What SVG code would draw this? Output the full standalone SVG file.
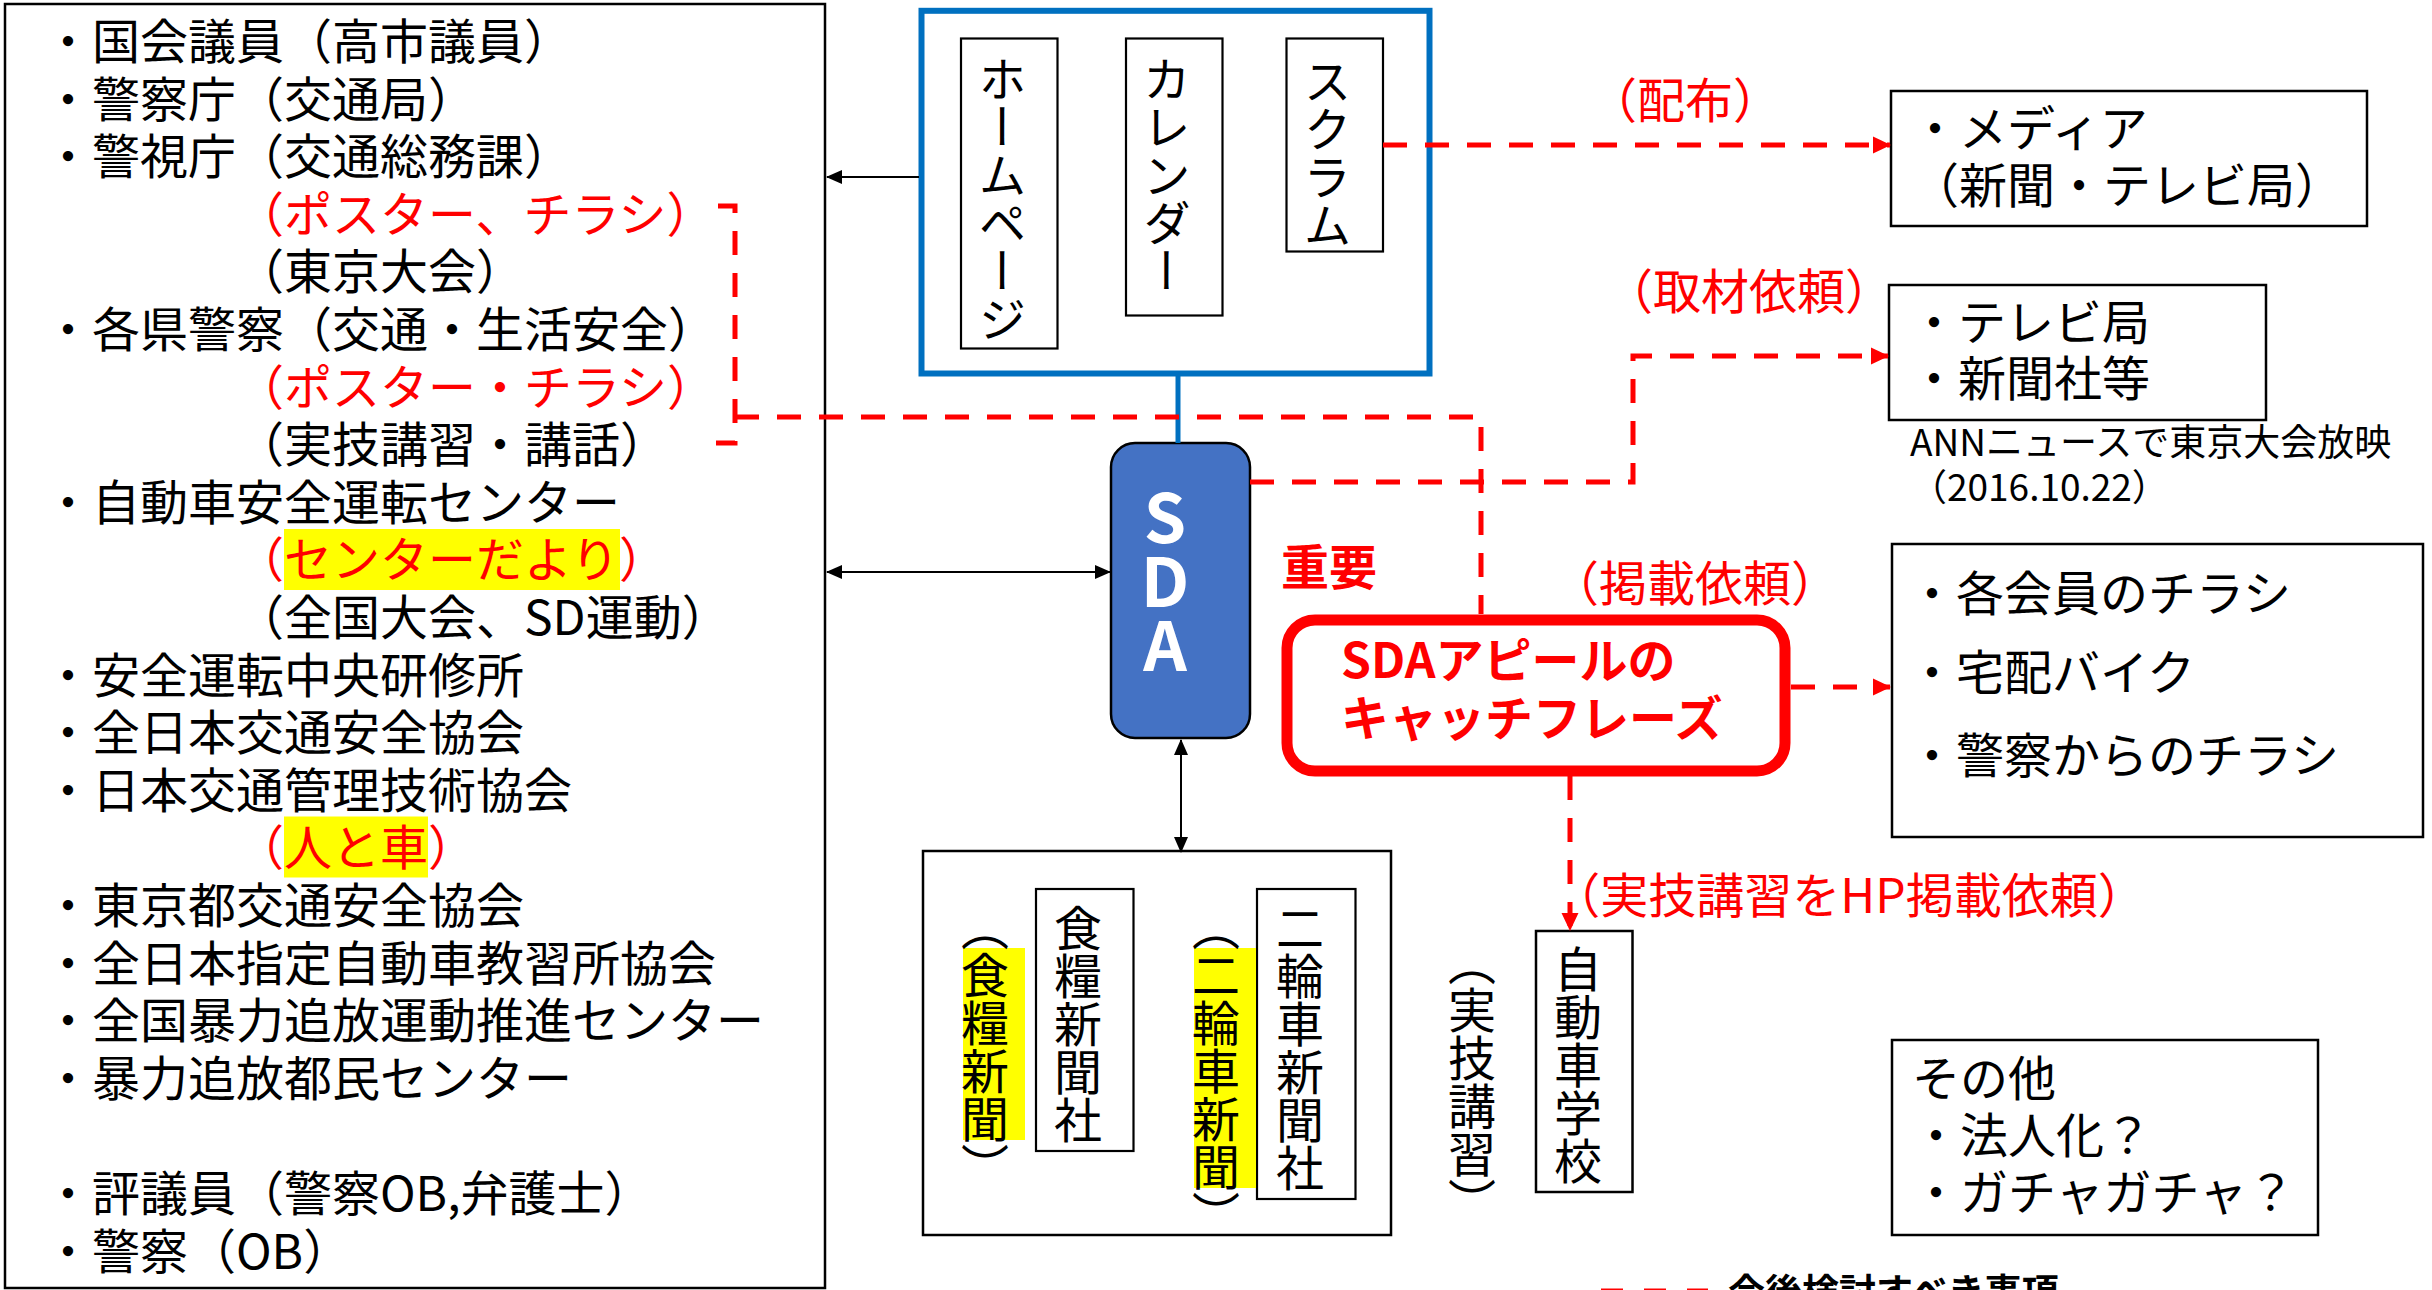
<svg xmlns="http://www.w3.org/2000/svg" width="2432" height="1290" viewBox="0 0 2432 1290">
<defs>
<style>
text{font-family:"Noto Sans CJK JP","Noto Sans",sans-serif;}
.t48{font-size:48px;fill:#000}
.t37{font-size:37px;fill:#000}
.red{fill:#ff0000}
.b{font-weight:bold}
.box{fill:#fff;stroke:#000;stroke-width:2.5}
.ibox{fill:#fff;stroke:#000;stroke-width:2.2}
.vt{writing-mode:vertical-rl;font-size:48px;text-anchor:middle;fill:#000}
.mid{text-anchor:middle}
.hl{fill:#ffff00}
.dash{fill:none;stroke:#ff0000;stroke-width:5;stroke-dasharray:24 18}
.blk{fill:none;stroke:#000;stroke-width:2}
</style>
<marker id="ra" markerUnits="userSpaceOnUse" markerWidth="18" markerHeight="18" viewBox="0 0 18 18" refX="17" refY="9" orient="auto"><path d="M0,0.5 L18,9 L0,17.5 z" fill="#ff0000"/></marker>
<marker id="ba" markerUnits="userSpaceOnUse" markerWidth="16" markerHeight="14" viewBox="0 0 16 14" refX="15" refY="7" orient="auto-start-reverse"><path d="M0,0 L16,7 L0,14 z" fill="#000"/></marker>
</defs>
<rect width="2432" height="1290" fill="#fff"/>

<g id="left-list">
<rect class="box" x="5" y="4" width="820" height="1284"/>
<rect class="hl" x="284" y="529" width="336" height="61"/>
<rect class="hl" x="284" y="816.5" width="144" height="61"/>
<text class="t48">
<tspan x="44" y="59">・国会議員（高市議員）</tspan>
<tspan x="44" y="116.6">・警察庁（交通局）</tspan>
<tspan x="44" y="174.2">・警視庁（交通総務課）</tspan>
<tspan x="236" y="231.8" class="red">（ポスター、チラシ）</tspan>
<tspan x="236" y="289.4">（東京大会）</tspan>
<tspan x="44" y="347">・各県警察（交通・生活安全）</tspan>
<tspan x="236" y="404.6" class="red">（ポスター・チラシ）</tspan>
<tspan x="236" y="462.2">（実技講習・講話）</tspan>
<tspan x="44" y="519.8">・自動車安全運転センター</tspan>
<tspan x="236" y="577.4" class="red">（センターだより）</tspan>
<tspan x="236" y="635">（全国大会、SD運動）</tspan>
<tspan x="44" y="692.6">・安全運転中央研修所</tspan>
<tspan x="44" y="750.2">・全日本交通安全協会</tspan>
<tspan x="44" y="807.8">・日本交通管理技術協会</tspan>
<tspan x="236" y="865.4" class="red">（人と車）</tspan>
<tspan x="44" y="923">・東京都交通安全協会</tspan>
<tspan x="44" y="980.6">・全日本指定自動車教習所協会</tspan>
<tspan x="44" y="1038.2">・全国暴力追放運動推進センター</tspan>
<tspan x="44" y="1095.8">・暴力追放都民センター</tspan>
<tspan x="44" y="1211">・評議員（警察OB,弁護士）</tspan>
<tspan x="44" y="1268.6">・警察（OB）</tspan>
</text>
</g>

<g id="media-tools">
<rect x="921.5" y="10.8" width="508" height="362.7" fill="#fff" stroke="#0070C0" stroke-width="6"/>
<rect class="ibox" x="961" y="38.5" width="96.5" height="310"/>
<rect class="ibox" x="1126" y="38.5" width="96.5" height="277"/>
<rect class="ibox" x="1286.5" y="38.5" width="96.5" height="213"/>
<text class="vt" x="1002.5" y="199">ホームページ</text>
<text class="vt" x="1166.7" y="175">カレンダー</text>
<text class="vt" x="1327.5" y="153">スクラム</text>
</g>

<g id="sda">
<rect x="1111" y="443" width="139" height="295" rx="24" fill="#4472C4" stroke="#000" stroke-width="2.5"/>
<text class="mid b" x="1165" y="543" font-size="68" fill="#fff">S</text>
<text class="mid b" x="1165" y="607" font-size="68" fill="#fff">D</text>
<text class="mid b" x="1165" y="671" font-size="68" fill="#fff">A</text>
</g>

<g id="important">
<text class="t48 red b mid" x="1329" y="585">重要</text>
</g>

<g id="catchphrase">
<rect x="1287" y="620" width="498" height="151" rx="28" fill="#fff" stroke="#ff0000" stroke-width="11"/>
<text class="t48 red b"><tspan x="1341" y="678">SDAアピールの</tspan><tspan x="1341" y="736">キャッチフレーズ</tspan></text>
</g>

<g id="media">
<rect class="box" x="1891" y="91" width="476" height="135"/>
<text class="t48"><tspan x="1911" y="146">・メディア</tspan><tspan x="1911" y="203">（新聞・テレビ局）</tspan></text>
</g>

<g id="tv">
<rect class="box" x="1889" y="285" width="377" height="135"/>
<text class="t48"><tspan x="1910" y="340">・テレビ局</tspan><tspan x="1910" y="396">・新聞社等</tspan></text>
<text class="t37"><tspan x="1910" y="456">ANNニュースで東京大会放映</tspan><tspan x="1910" y="501">（2016.10.22）</tspan></text>
</g>

<g id="flyers">
<rect class="box" x="1892" y="544" width="531" height="293"/>
<text class="t48"><tspan x="1908" y="611">・各会員のチラシ</tspan><tspan x="1908" y="690">・宅配バイク</tspan><tspan x="1908" y="773">・警察からのチラシ</tspan></text>
</g>

<g id="newspapers">
<rect class="box" x="923" y="851" width="468" height="384"/>
<rect class="ibox" x="1036" y="889" width="97.5" height="262"/>
<rect class="ibox" x="1257" y="889" width="98.5" height="310"/>
<rect class="hl" x="963" y="948" width="62" height="192"/>
<rect class="hl" x="1194" y="948" width="62" height="240"/>
<text class="vt" x="1078" y="1024">食糧新聞社</text>
<text class="vt" x="1300" y="1048">二輪車新聞社</text>
<text class="vt" x="985" y="1047">（食糧新聞）</text>
<text class="vt" x="1216" y="1071">（二輪車新聞）</text>
</g>

<g id="driving-school">
<rect class="box" x="1536" y="931" width="96.5" height="261"/>
<text class="vt" x="1578" y="1065">自動車学校</text>
<text class="vt" x="1472" y="1082">（実技講習）</text>
</g>

<g id="others">
<rect class="box" x="1892" y="1040" width="426" height="195"/>
<text class="t48"><tspan x="1912" y="1096">その他</tspan><tspan x="1912" y="1153">・法人化？</tspan><tspan x="1912" y="1210">・ガチャガチャ？</tspan></text>
</g>

<g id="labels">
<text class="t48 red mid" x="1685" y="118">（配布）</text>
<text class="t48 red mid" x="1749" y="309">（取材依頼）</text>
<text class="t48 red mid" x="1695" y="601">（掲載依頼）</text>
<text class="t48 red mid" x="1849" y="913">（実技講習をHP掲載依頼）</text>
</g>

<g id="legend">
<path d="M1601,1291 L1708,1291" fill="none" stroke="#ff0000" stroke-width="5" stroke-dasharray="22 21"/>
<text class="b" x="1728" y="1306" font-size="37" fill="#000">今後検討すべき事項</text>
</g>

<g id="connectors">
<path class="blk" d="M919,177 L827,177" marker-end="url(#ba)"/>
<path class="blk" d="M827,572 L1110,572" marker-start="url(#ba)" marker-end="url(#ba)"/>
<path class="blk" d="M1181,740 L1181,852" marker-start="url(#ba)" marker-end="url(#ba)"/>
<path d="M1178,376 L1178,443" fill="none" stroke="#0070C0" stroke-width="5"/>
<path class="dash" d="M718,206 L735,206 L735,443 L716,443"/>
<path class="dash" d="M735,417 L1481,417 L1481,614"/>
<path class="dash" d="M1383,145 L1890,145" marker-end="url(#ra)"/>
<path class="dash" d="M1250,482 L1633,482 L1633,356 L1888,356" marker-end="url(#ra)"/>
<path class="dash" d="M1791,687 L1890,687" marker-end="url(#ra)"/>
<path class="dash" d="M1570,776 L1570,930" marker-end="url(#ra)"/>
</g>
</svg>
